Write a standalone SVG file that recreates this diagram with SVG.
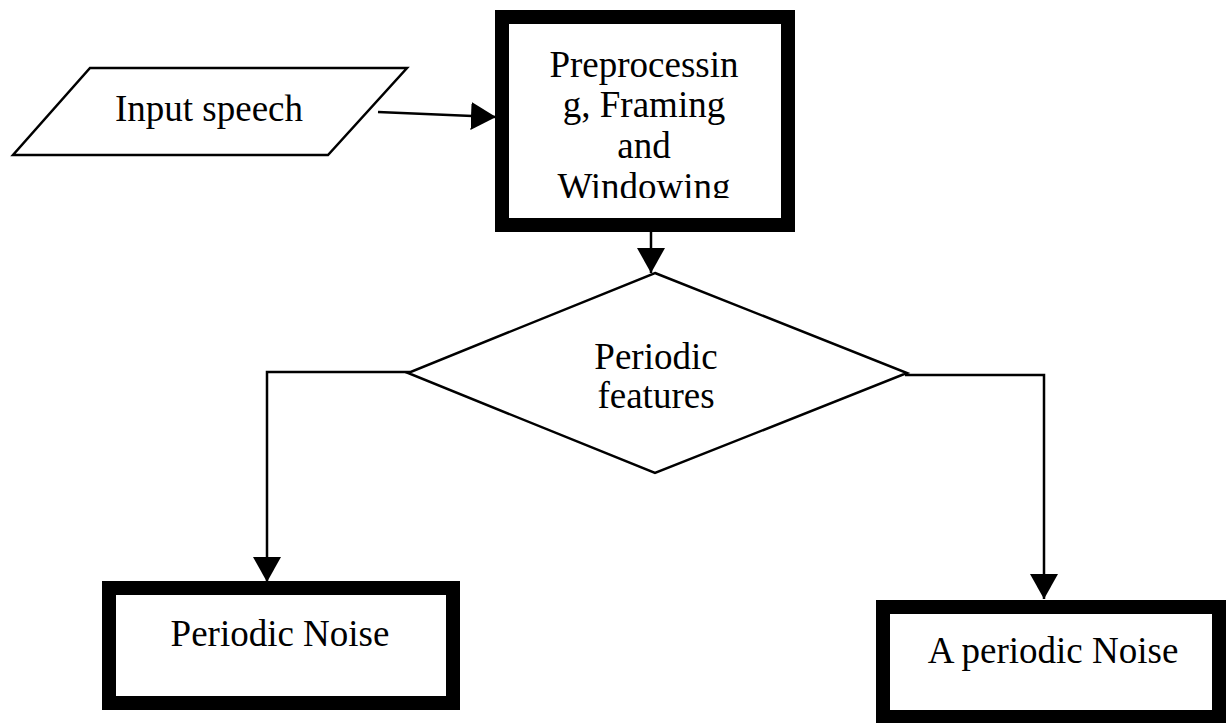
<svg xmlns="http://www.w3.org/2000/svg" width="1226" height="723" viewBox="0 0 1226 723">
<style>
.t{font-family:"Liberation Serif","Times New Roman",serif;font-size:37px;fill:#000;text-anchor:middle}
.thin{fill:#fff;stroke:#000;stroke-width:2.5}
.thick{fill:#fff;stroke:#000;stroke-width:14}
.c{fill:none;stroke:#000;stroke-width:2.5}
</style>
<defs>
<marker id="ah" markerUnits="userSpaceOnUse" markerWidth="26" markerHeight="28" refX="25" refY="14" orient="auto">
<path d="M0,0 L25,14 L0,28 Z" fill="#000"/>
</marker>
<clipPath id="clip1"><rect x="509" y="24" width="274" height="174"/></clipPath>
</defs>
<rect width="1226" height="723" fill="#fff"/>
<g id="input">
<polygon class="thin" points="90,68 407,68 328,155 13,155"/>
<text class="t" x="209" y="121">Input speech</text>
</g>
<g id="preprocess">
<rect class="thick" x="502" y="17" width="286" height="208"/>
<g clip-path="url(#clip1)">
<text class="t" x="644" y="77">Preprocessin</text>
<text class="t" x="644" y="117">g, Framing</text>
<text class="t" x="644" y="158">and</text>
<text class="t" x="644" y="199">Windowing</text>
</g>
</g>
<g id="decision">
<polygon class="thin" points="655,273 907,373 655,473 408,373"/>
<text class="t" x="656" y="369">Periodic</text>
<text class="t" x="656" y="408">features</text>
</g>
<g id="periodic">
<rect class="thick" x="109" y="588" width="344" height="115"/>
<text class="t" x="280" y="646">Periodic Noise</text>
</g>
<g id="aperiodic">
<rect class="thick" x="883" y="607" width="336" height="110"/>
<text class="t" x="1053" y="663">A periodic Noise</text>
</g>
<g id="connectors">
<line class="c" x1="378" y1="112" x2="496" y2="117" marker-end="url(#ah)"/>
<line class="c" x1="651" y1="232" x2="651" y2="273" marker-end="url(#ah)"/>
<polyline class="c" points="410,372 267,372 267,582" marker-end="url(#ah)"/>
<polyline class="c" points="905,375 1044,375 1044,599" marker-end="url(#ah)"/>
</g>
</svg>
